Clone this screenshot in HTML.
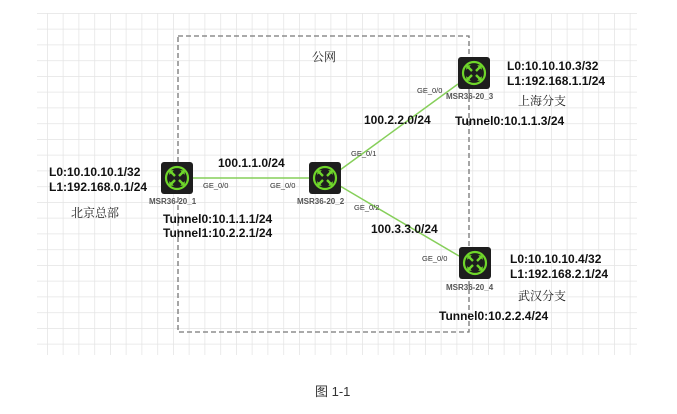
<!DOCTYPE html>
<html><head><meta charset="utf-8"><style>
body{margin:0;background:#fff;width:677px;height:409px;overflow:hidden}
text{font-family:"Liberation Sans","Noto Sans CJK SC",sans-serif}
.b{font-size:12px;font-weight:bold;fill:#111}
.g{font-size:7.5px;fill:#333}
.m{font-size:8px;fill:#555;font-weight:bold}
.c{font-size:12px;fill:#222;font-family:"Noto Serif CJK SC","Liberation Serif",serif}
</style></head><body>
<svg width="677" height="409" xmlns="http://www.w3.org/2000/svg">
<defs>
<pattern id="grid" x="47" y="13" width="15.75" height="15.75" patternUnits="userSpaceOnUse">
<path d="M0 0V15.75M0 0H15.75" stroke="#e4e4e4" stroke-width="1.5" fill="none"/>
</pattern>
<g id="r">
<rect x="0" y="0" width="32" height="32" rx="3" fill="#1e1e1e"/>
<circle cx="16" cy="16" r="11" fill="none" stroke="#6fd62a" stroke-width="2.2"/>
<g stroke="#6fd62a" stroke-width="2.4" fill="#6fd62a">
<path d="M10 10L14 14M22 10L18 14M10 22L14 18M22 22L18 18"/>
<path d="M8.5 8.5h4l-4 4z M23.5 8.5h-4l4 4z M8.5 23.5h4l-4-4z M23.5 23.5h-4l4-4z" stroke-width="0.5"/>
</g>
</g>
</defs>
<rect x="37" y="13" width="600" height="342" fill="url(#grid)"/>
<rect x="178" y="36" width="291" height="296" fill="none" stroke="#777" stroke-width="1.3" stroke-dasharray="5,3"/>
<g stroke="#86cf5a" stroke-width="1.5">
<line x1="193" y1="178" x2="309" y2="178"/>
<line x1="340" y1="170" x2="458" y2="84"/>
<line x1="340" y1="186" x2="459" y2="256"/>
</g>
<use href="#r" x="161" y="162"/>
<use href="#r" x="309" y="162"/>
<use href="#r" x="458" y="57"/>
<use href="#r" x="459" y="247"/>
<text class="c" x="312" y="61">公网</text>
<text class="b" x="218" y="167">100.1.1.0/24</text>
<text class="g" x="203" y="188">GE_0/0</text>
<text class="g" x="270" y="188">GE_0/0</text>
<text class="m" x="149" y="204">MSR36-20_1</text>
<text class="m" x="297" y="204">MSR36-20_2</text>
<text class="b" x="163" y="223">Tunnel0:10.1.1.1/24</text>
<text class="b" x="163" y="237">Tunnel1:10.2.2.1/24</text>
<text class="b" x="49" y="176">L0:10.10.10.1/32</text>
<text class="b" x="49" y="191">L1:192.168.0.1/24</text>
<text class="c" x="71" y="217">北京总部</text>
<text class="g" x="351" y="156">GE_0/1</text>
<text class="b" x="364" y="124">100.2.2.0/24</text>
<text class="g" x="417" y="93">GE_0/0</text>
<text class="m" x="446" y="99">MSR36-20_3</text>
<text class="b" x="507" y="70">L0:10.10.10.3/32</text>
<text class="b" x="507" y="85">L1:192.168.1.1/24</text>
<text class="c" x="518" y="105">上海分支</text>
<text class="b" x="455" y="125">Tunnel0:10.1.1.3/24</text>
<text class="g" x="354" y="210">GE_0/2</text>
<text class="b" x="371" y="233">100.3.3.0/24</text>
<text class="g" x="422" y="261">GE_0/0</text>
<text class="m" x="446" y="290">MSR36-20_4</text>
<text class="b" x="510" y="263">L0:10.10.10.4/32</text>
<text class="b" x="510" y="278">L1:192.168.2.1/24</text>
<text class="c" x="518" y="300">武汉分支</text>
<text class="b" x="439" y="320">Tunnel0:10.2.2.4/24</text>
<text x="315" y="396" style="font-size:13px;fill:#333">图 1-1</text>
</svg>
</body></html>
